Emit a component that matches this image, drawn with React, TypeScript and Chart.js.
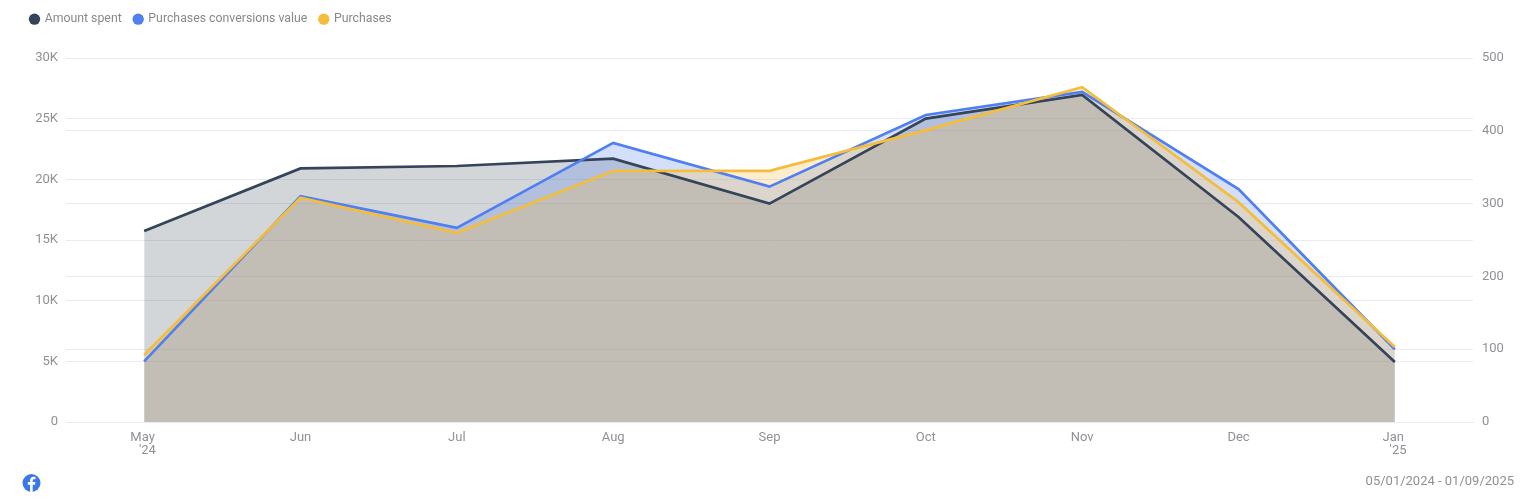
import React, { useEffect, useRef } from "react";
import { Chart, registerables } from "chart.js";

Chart.register(...registerables);

const categories = [["May ", "  '24"], ["Jun"], ["Jul"], ["Aug"], ["Sep"], ["Oct"], ["Nov"], ["Dec"], ["Jan ", "  '25"]];
const amountSpent = [15750, 20900, 21100, 21700, 18000, 25000, 26950, 16900, 4950];
const conversionsValue = [5000, 18600, 16000, 23000, 19400, 25300, 27200, 19200, 6000];
const purchases = [92, 308, 260, 345, 345, 401, 460, 302, 103];
const leftTicks = [0, 5000, 10000, 15000, 20000, 25000, 30000];
const rightTicks = [0, 100, 200, 300, 400, 500];
const dateRange = "05/01/2024 - 01/09/2025";

const FONT = "Roboto, sans-serif";
const GRID = "#e8ebf6";
const TICK = "#8e9196";

const legendSpacer = {
  id: "legendSpacer",
  beforeLayout(chart: any) {
    const l = chart.legend;
    if (l && !l.__spaced) {
      const fit = l.fit;
      l.fit = function () {
        fit.call(this);
        this.height = 57.5;
      };
      l.__spaced = true;
    }
  },
};

export default function App() {
  const ref = useRef<HTMLCanvasElement>(null);
  useEffect(() => {
    const chart = new Chart(ref.current!, {
      type: "line",
      plugins: [legendSpacer],
      data: {
        labels: categories as any,
        datasets: [
          { label: "Amount spent", data: amountSpent, yAxisID: "y", order: 3, borderColor: "#36445a", backgroundColor: "rgba(54,68,84,0.22)", fill: "origin" },
          { label: "Purchases conversions value", data: conversionsValue, yAxisID: "y", order: 2, borderColor: "#4f7ff0", backgroundColor: "rgba(79,127,240,0.25)", fill: "origin" },
          { label: "Purchases", data: purchases, yAxisID: "y1", order: 1, borderColor: "#f5bd3c", backgroundColor: "rgba(243,185,58,0.25)", fill: "origin" },
        ].map((d) => ({ ...d, borderWidth: 2.7, pointRadius: 0, tension: 0 })) as any,
      },
      options: {
        animation: false,
        responsive: false,
        layout: { padding: { left: 18, right: 0, top: 0.5, bottom: 0 } },
        plugins: {
          filler: { drawTime: "beforeDatasetsDraw" },
          tooltip: { enabled: false },
          legend: {
            display: true,
            align: "start",
            labels: {
              usePointStyle: true,
              pointStyle: "circle",
              boxWidth: 8,
              boxHeight: 8,
              padding: 12.5,
              color: "#85888d",
              font: { family: FONT, size: 12.3 },
              generateLabels: (c: any) =>
                c.data.datasets.map((d: any, i: number) => ({
                  text: d.label,
                  fillStyle: d.borderColor,
                  strokeStyle: d.borderColor,
                  lineWidth: 0,
                  pointStyle: "circle",
                  fontColor: "#85888d",
                  datasetIndex: i,
                })),
            },
          },
        } as any,
        scales: {
          x: {
            offset: true,
            grid: { display: false },
            border: { display: true, color: GRID },
            ticks: { color: TICK, font: { family: FONT, size: 13, lineHeight: 1 }, padding: 1, maxRotation: 0, autoSkip: false },
            afterFit: (s: any) => { s.height = 82; },
          },
          y: {
            position: "left",
            min: 0,
            max: 30000,
            afterBuildTicks: (s: any) => { s.ticks = leftTicks.map((value) => ({ value })); },
            grid: { color: GRID, drawTicks: false },
            border: { display: false },
            ticks: { color: TICK, font: { family: FONT, size: 13 }, padding: 8, callback: (v: any) => (v === 0 ? "0" : `${Number(v) / 1000}K`) },
            afterFit: (s: any) => { s.width = 48; },
          },
          y1: {
            position: "right",
            min: 0,
            max: 500,
            afterBuildTicks: (s: any) => { s.ticks = rightTicks.map((value) => ({ value })); },
            grid: { color: GRID, drawTicks: false },
            border: { display: false },
            ticks: { color: TICK, font: { family: FONT, size: 13 }, padding: 9 },
            afterFit: (s: any) => { s.width = 66; },
          },
        },
      },
    });
    return () => chart.destroy();
  }, []);

  return (
    <div style={{ position: "fixed", left: 0, top: 0, width: 1539, height: 504, background: "#fff", overflow: "hidden", filter: "blur(0.6px)" }}>
      <canvas ref={ref} width={1539} height={504} style={{ display: "block" }} />
      <svg width="20" height="22" viewBox="0 0 20 22" style={{ position: "absolute", left: 22, top: 473 }}>
        <circle cx="9.5" cy="10" r="9" fill="#3b78e7" />
        <path d="M10.7 19V11.8h2.3l.4-2.7h-2.7V7.6c0-.8.3-1.3 1.4-1.3h1.4V3.9c-.3 0-1.1-.1-2-.1-2 0-3.4 1.2-3.4 3.5v1.8H5.8v2.7h2.3V19z" fill="#fff" />
      </svg>
      <div style={{ position: "absolute", right: 25, top: 473, font: `13px ${FONT}`, color: "#8e9196", whiteSpace: "nowrap" }}>{dateRange}</div>
    </div>
  );
}
